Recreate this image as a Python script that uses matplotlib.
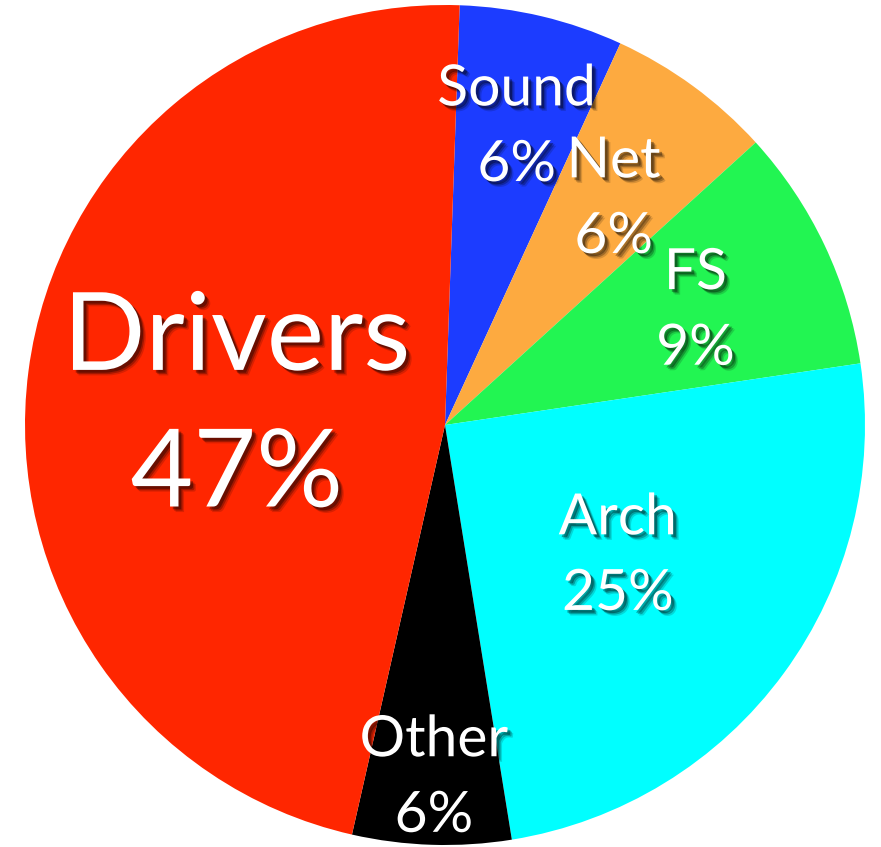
import numpy as np
import matplotlib
matplotlib.use('Agg')
import matplotlib.pyplot as plt
import matplotlib.patheffects as pe

plt.rcParams['font.family'] = ['Lato', 'DejaVu Sans']

## Data (clockwise from the top)
categories = ['Sound', 'Net', 'FS', 'Arch', 'Other', 'Drivers']
shares = [6.3, 6.4, 9.4, 24.8, 6.1, 47.0]
colors = ['#1c3cff', '#fdaa40', '#22f552', '#00ffff', '#000000', '#ff2600']

# how far out each label sits, its font size and line spacing
label_dist = [0.74, 0.68, 0.66, 0.51, 0.83, 0.50]
label_size = [41, 41, 41, 41, 41, 78]
label_gap = [1.6, 1.6, 1.6, 1.6, 1.6, 1.47]

fig = plt.figure(figsize=(8.81, 8.47), dpi=100)
ax = fig.add_axes([25/881, 2/847, 840/881, 840/847])

wedges, _ = ax.pie(shares, colors=colors, startangle=88, counterclock=False,
                   radius=1.0, wedgeprops=dict(linewidth=0))
ax.set_xlim(-1, 1)
ax.set_ylim(-1, 1)
ax.set_aspect('equal')
ax.axis('off')

# soft drop shadow: a few faint layers stacked
shadow = [pe.SimplePatchShadow(offset=(o, -o), shadow_rgbFace='black', alpha=a)
          for o, a in [(4, 0.15), (3, 0.25), (2, 0.35)]] + [pe.Normal()]

for w, name, val, d, fs, ls in zip(wedges, categories, shares, label_dist, label_size, label_gap):
    mid = np.deg2rad((w.theta1 + w.theta2) / 2)
    x, y = d*np.cos(mid), d*np.sin(mid)
    # small drop so the visible glyphs (not the descent box) are centred
    ax.annotate(f'{name}\n{round(val)}%', (x, y), xytext=(0, -0.09*fs),
                textcoords='offset points', ha='center', va='center',
                color='white', fontsize=fs, linespacing=ls, path_effects=shadow)

fig.savefig('out.png', dpi=100)
